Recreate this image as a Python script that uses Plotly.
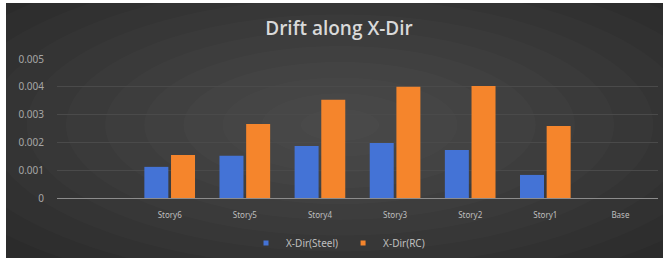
import plotly.graph_objects as go

categories = [" ", "Story6", "Story5", "Story4", "Story3", "Story2", "Story1", "Base"]
steel = [None, 0.00112, 0.00152, 0.00187, 0.00198, 0.00173, 0.00083, None]
rc = [None, 0.00155, 0.00266, 0.00353, 0.00400, 0.00403, 0.00259, None]
y_ticks = [0, 0.001, 0.002, 0.003, 0.004, 0.005]
y_tick_text = ["0", "0.001", "0.002", "0.003", "0.004", "0.005"]

W, H = 669, 266
L, R, T, B = 57, 11, 59, 68
pw, ph = W - L - R, H - T - B

def px_x(x):
    return (x - L) / pw

def px_y(y):
    return (H - B - y) / ph

fig = go.Figure()
fig.add_trace(go.Bar(x=categories, y=steel, name="X-Dir(Steel)", showlegend=False,
                     legendgroup="s", marker=dict(color="#4473d6", line=dict(width=0))))
fig.add_trace(go.Bar(x=categories, y=rc, name="X-Dir(RC)", showlegend=False,
                     legendgroup="r", marker=dict(color="#f5852c", line=dict(width=0))))
fig.add_trace(go.Scatter(x=[None], y=[None], mode="markers", name="X-Dir(Steel)",
                         legendgroup="s",
                         marker=dict(symbol="square", size=5, color="#4473d6")))
fig.add_trace(go.Scatter(x=[None], y=[None], mode="markers", name="X-Dir(RC)",
                         legendgroup="r",
                         marker=dict(symbol="square", size=5, color="#f5852c")))

shapes = [dict(type="rect", xref="paper", yref="paper",
               x0=px_x(6), x1=px_x(663), y0=px_y(258), y1=px_y(3),
               fillcolor="#282828", line=dict(width=0), layer="below")]
cx, cy = 340, 125
n = 12
for k in range(n, 0, -1):
    rx = 470 * k / n
    ry = 190 * k / n
    shapes.append(dict(type="circle", xref="paper", yref="paper",
                       x0=px_x(cx - rx), x1=px_x(cx + rx),
                       y0=px_y(cy + ry), y1=px_y(cy - ry),
                       fillcolor="rgba(255,255,255,0.014)", line=dict(width=0),
                       layer="below"))

fig.update_layout(
    width=W, height=H,
    margin=dict(l=L, r=R, t=T, b=B, autoexpand=False),
    paper_bgcolor="white",
    plot_bgcolor="rgba(0,0,0,0)",
    shapes=shapes,
    barmode="group", bargap=0.29, bargroupgap=0.1,
    title=dict(text="Drift along X-Dir", x=339 / W, xanchor="center",
               y=1 - 28 / H, yanchor="middle",
               font=dict(family="Open Sans", size=19, color="#d9d9d9", weight=600)),
    legend=dict(orientation="h", x=px_x(338), xanchor="center",
                y=px_y(243), yanchor="middle",
                font=dict(family="Noto Sans", size=10, color="#bfbfbf"),
                bgcolor="rgba(0,0,0,0)", itemwidth=30, tracegroupgap=0),
    xaxis=dict(type="category", categoryorder="array", categoryarray=categories,
               showgrid=False, showline=True, linecolor="#8c8c8c", linewidth=1,
               ticks="", tickfont=dict(family="Noto Sans", size=8, color="#bfbfbf"),
               ticklabelstandoff=9, zeroline=False),
    yaxis=dict(range=[0, 0.005], tickvals=y_ticks, ticktext=y_tick_text,
               showgrid=True, gridcolor="#4a4a4a", gridwidth=1,
               zeroline=False, showline=False, ticks="",
               tickfont=dict(family="Noto Sans", size=10, color="#a6a6a6"),
               ticklabelstandoff=12),
)

fig.write_html("out.html", config={"displayModeBar": False},
               post_script="document.body.style.margin='0px';document.body.style.overflow='hidden';")
